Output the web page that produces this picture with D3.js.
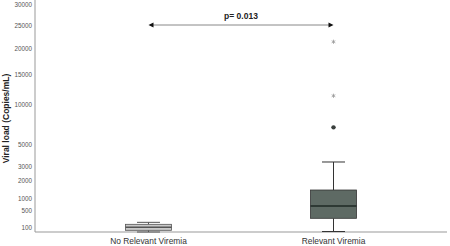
<!DOCTYPE html>
<html><head><meta charset="utf-8">
<script src="https://cdn.jsdelivr.net/npm/d3@7"></script>
<style>body{margin:0;background:#fff}svg{display:block}</style>
</head><body>
<svg id="c" width="450" height="246"></svg>
<script>
const categories = ["No Relevant Viremia", "Relevant Viremia"];
const whiskerLow = [50, 55];
const q1 = [69, 292];
const median = [110, 681];
const q3 = [161, 1429];
const whiskerHigh = [200, 3400];
const circleOutliers = [[], [7000]];
const starOutliers = [[], [11400, 21400]];
const yTicks = [100, 500, 1000, 2000, 3000, 5000, 10000, 15000, 20000, 25000, 30000];
const pLabel = "p= 0.013";
const yTitle = "Viral load (Copies/mL)";

(function () {
const svg = d3.select("#c");
const mLeft = 35, mRight = 447, mTop = 5, mBottom = 232;
const x = d3.scalePoint().domain(categories).range([mLeft, mRight]).padding(0.6135);
const y = d3.scaleSqrt().domain([50, 30000]).range([mBottom, mTop]);
const fills = ["#c9c9c9", "#5e6a64"];
const strokes = ["#555", "#333"];
const medStroke = ["#555", "#1f2a25"];
const bw = 46;
const font = "Liberation Sans, Arial, sans-serif";

// axes
svg.append("line").attr("x1", mLeft).attr("x2", mLeft).attr("y1", 0).attr("y2", mBottom).attr("stroke", "#999").attr("stroke-width", 1);
svg.append("line").attr("x1", mLeft).attr("x2", mRight).attr("y1", mBottom).attr("y2", mBottom).attr("stroke", "#999").attr("stroke-width", 1);
svg.selectAll(".yt").data(yTicks).enter().append("text")
  .attr("x", mLeft - 3).attr("y", d => y(d)).attr("dy", "0.35em")
  .attr("text-anchor", "end").attr("font-family", font)
  .attr("font-size", 6.3).attr("fill", "#555").text(d => d);
svg.append("text").attr("transform", `translate(9,${(mTop + mBottom) / 2}) rotate(-90)`)
  .attr("text-anchor", "middle").attr("font-family", font)
  .attr("font-size", 8.5).attr("font-weight", "bold").attr("fill", "#222").text(yTitle);
svg.selectAll(".xt").data(categories).enter().append("text")
  .attr("x", d => x(d)).attr("y", 244).attr("text-anchor", "middle")
  .attr("font-family", font).attr("font-size", 8.4)
  .attr("fill", "#333").text(d => d);

// boxes
categories.forEach((c, i) => {
  const cx = x(c);
  const g = svg.append("g");
  g.append("line").attr("x1", cx).attr("x2", cx).attr("y1", y(whiskerHigh[i])).attr("y2", y(q3[i])).attr("stroke", strokes[i]).attr("stroke-width", 1);
  g.append("line").attr("x1", cx).attr("x2", cx).attr("y1", y(q1[i])).attr("y2", y(whiskerLow[i])).attr("stroke", strokes[i]).attr("stroke-width", 1);
  g.append("line").attr("x1", cx - bw / 4).attr("x2", cx + bw / 4).attr("y1", y(whiskerHigh[i])).attr("y2", y(whiskerHigh[i])).attr("stroke", strokes[i]).attr("stroke-width", 1);
  g.append("line").attr("x1", cx - bw / 4).attr("x2", cx + bw / 4).attr("y1", y(whiskerLow[i])).attr("y2", y(whiskerLow[i])).attr("stroke", strokes[i]).attr("stroke-width", 1);
  g.append("rect").attr("x", cx - bw / 2).attr("width", bw).attr("y", y(q3[i])).attr("height", y(q1[i]) - y(q3[i]))
    .attr("fill", fills[i]).attr("stroke", strokes[i]).attr("stroke-width", 0.8);
  g.append("line").attr("x1", cx - bw / 2).attr("x2", cx + bw / 2).attr("y1", y(median[i])).attr("y2", y(median[i])).attr("stroke", medStroke[i]).attr("stroke-width", 1.5);
  circleOutliers[i].forEach(v => g.append("circle").attr("cx", cx).attr("cy", y(v)).attr("r", 2.2).attr("fill", "#3a3f3d"));
  starOutliers[i].forEach(v => g.append("path").attr("d", d3.symbol(d3.symbolAsterisk, 12)()).attr("transform", `translate(${cx},${y(v)})`).attr("stroke", "#999").attr("stroke-width", 0.8).attr("fill", "none"));
});

// significance arrow
const ay = 25;
const x0 = x(categories[0]), x1 = x(categories[1]);
svg.append("line").attr("x1", x0 + 2).attr("x2", x1 - 2).attr("y1", ay).attr("y2", ay).attr("stroke", "#888").attr("stroke-width", 1);
svg.append("path").attr("d", `M${x0},${ay} L${x0 + 5},${ay - 2.5} L${x0 + 5},${ay + 2.5}Z`).attr("fill", "#111");
svg.append("path").attr("d", `M${x1},${ay} L${x1 - 5},${ay - 2.5} L${x1 - 5},${ay + 2.5}Z`).attr("fill", "#111");
svg.append("text").attr("x", (x0 + x1) / 2).attr("y", 19).attr("text-anchor", "middle")
  .attr("font-family", font).attr("font-size", 8.5).attr("font-weight", "bold")
  .attr("fill", "#222").text(pLabel);
})();
</script>
</body></html>
